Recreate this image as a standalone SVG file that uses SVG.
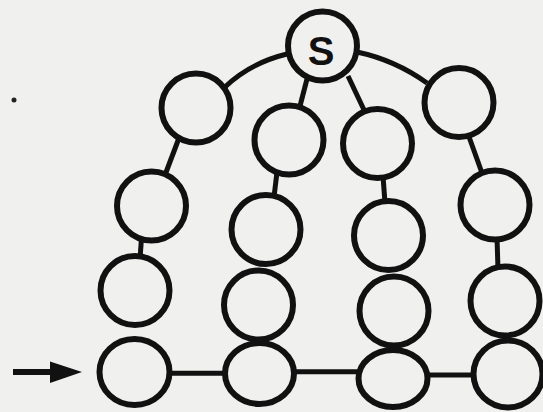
<svg xmlns="http://www.w3.org/2000/svg" width="543" height="412" viewBox="0 0 543 412">
<style>
.n{fill:none;stroke:#111;stroke-width:6}
.c{fill:none;stroke:#111;stroke-width:5;stroke-linecap:butt}
.t{font-family:"Liberation Sans",Arial,sans-serif;font-size:40px;font-weight:bold;fill:#111;text-anchor:middle}
</style>
<rect width="543" height="412" fill="#f0f0ee"/>
<circle cx="14" cy="100" r="2.5" fill="#222"/>
<g id="connectors">
<path class="c" d="M287,54 Q250,63 225,87"/>
<path class="c" d="M357,52 Q395,60 427,83"/>
<line class="c" x1="307" y1="79" x2="300" y2="106"/>
<line class="c" x1="348" y1="76" x2="365" y2="112"/>
<line class="c" x1="179" y1="138" x2="165" y2="175"/>
<line class="c" x1="277" y1="172" x2="274" y2="197"/>
<line class="c" x1="383" y1="176" x2="385" y2="203"/>
<line class="c" x1="468" y1="134" x2="482" y2="173"/>
<line class="c" x1="141.5" y1="238" x2="140" y2="259"/>
<line class="c" x1="497" y1="237" x2="498" y2="269"/>
<line class="c" x1="168" y1="373.3" x2="227" y2="373.3"/>
<line class="c" x1="292" y1="371.7" x2="360" y2="371.7"/>
<line class="c" x1="426" y1="375" x2="475" y2="375"/>
<g id="arrow">
<line x1="13" y1="372" x2="56" y2="372" stroke="#111" stroke-width="6"/>
<path d="M50,361.5 L82,372 L50,383 Z" fill="#111"/>
</g>
</g>
<g id="S"><circle class="n" cx="322.5" cy="46" r="34.5"/><text class="t" x="321" y="65">S</text></g>
<g id="a1"><circle class="n" cx="196" cy="108" r="34.5"/></g>
<g id="a2"><circle class="n" cx="151.5" cy="206" r="34.5"/></g>
<g id="a3"><circle class="n" cx="135" cy="290.5" r="34.5"/></g>
<g id="a4"><ellipse class="n" cx="134.5" cy="372" rx="35" ry="33"/></g>
<g id="b1"><circle class="n" cx="289" cy="140" r="34.5"/></g>
<g id="b2"><circle class="n" cx="266" cy="229.5" r="34.5"/></g>
<g id="b3"><circle class="n" cx="258.5" cy="305" r="34.5"/></g>
<g id="b4"><ellipse class="n" cx="259.5" cy="373.5" rx="34.5" ry="30.5"/></g>
<g id="c1"><circle class="n" cx="377.5" cy="143.5" r="34.5"/></g>
<g id="c2"><circle class="n" cx="388.5" cy="235.5" r="34.5"/></g>
<g id="c3"><circle class="n" cx="394" cy="311" r="34.5"/></g>
<g id="c4"><ellipse class="n" cx="393" cy="378.5" rx="34.5" ry="28.5"/></g>
<g id="d1"><circle class="n" cx="459" cy="102.5" r="34.5"/></g>
<g id="d2"><circle class="n" cx="495" cy="205" r="34.5"/></g>
<g id="d3"><circle class="n" cx="505" cy="301" r="34.5"/></g>
<g id="d4"><ellipse class="n" cx="508" cy="374" rx="34.5" ry="33.5"/></g>
</svg>
